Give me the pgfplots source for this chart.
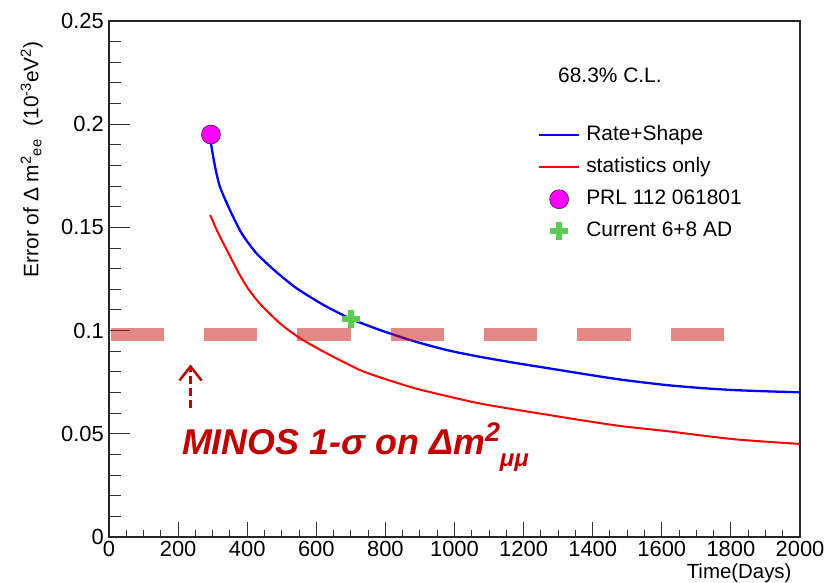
\documentclass[border=0pt]{standalone}
\usepackage{pgfplots}
\pgfplotsset{compat=1.18}
\usepackage{fontspec}
\setmainfont{Liberation Sans}
\usetikzlibrary{arrows.meta}
\definecolor{bandred}{RGB}{200,15,15}
\definecolor{darkred}{RGB}{192,0,0}
\definecolor{crossgreen}{RGB}{92,204,88}
\definecolor{pmag}{RGB}{255,0,255}
\pgfplotsset{
  linelegend/.style={legend image code/.code={\draw[##1] (0bp,0bp) -- (40bp,0bp);}},
  marklegend/.style={legend image code/.code={\draw[##1] plot coordinates {(20bp,0bp)};}},
}
\begin{document}
\begin{tikzpicture}
\path[use as bounding box] (-109bp,-46bp) rectangle (715bp,537bp);
\begin{axis}[
  at={(0bp,0bp)}, anchor=south west,
  scale only axis, width=691bp, height=516bp,
  xmin=0, xmax=2000, ymin=0, ymax=0.25,
  xtick={0,200,400,600,800,1000,1200,1400,1600,1800,2000},
  xticklabels={0,200,400,600,800,1000,1200,1400,1600,1800,2000},
  ytick={0,0.05,0.1,0.15,0.2,0.25},
  yticklabels={0,0.05,0.1,0.15,0.2,0.25},
  minor x tick num=3, minor y tick num=4,
  tick align=inside, tick pos=left,
  major tick length=21bp, minor tick length=12bp,
  xtick style={/pgfplots/major tick length=15bp,/pgfplots/minor tick length=7bp},
  axis line style={line width=1.3bp, black!85},
  tick style={line width=1bp, black!80},
  /pgf/number format/assume math mode=true,
  ticklabel style={font=\fontsize{22}{25}\selectfont},
  xticklabel style={inner sep=4bp},
  yticklabel style={inner sep=5bp},
  xlabel={Time(Days)},
  every axis x label/.style={at={(axis description cs:0.9928,-0.0700)}, anchor=east, font=\fontsize{20.5}{24}\selectfont},
  ylabel={Error of Δ m\textsuperscript{2}\textsubscript{ee}\,\, (10\textsuperscript{-3}eV\textsuperscript{2})},
  every axis y label/.style={at={(axis description cs:-0.112,0.967)}, rotate=90, anchor=east, font=\fontsize{21}{24}\selectfont},
  legend style={at={(axis description cs:0.6075,0.810)}, anchor=north west, draw=none, fill=white,
    inner xsep=9bp, inner ysep=5.5bp, row sep=11bp,
    font=\fontsize{21}{24}\selectfont,
    nodes={inner sep=0bp, text height=16bp, text depth=5bp},
    /tikz/every odd column/.append style={column sep=6bp}},
  legend cell align=left,
]
% Rate+Shape
\addplot[blue, line width=2.3bp, smooth, tension=0.4, linelegend] coordinates {
(295,0.1907) (307,0.1794) (321,0.1697) (350,0.1584) (384,0.1471) (427,0.1374)
(485,0.1283) (543,0.1205) (620,0.1125) (700,0.1057) (784,0.1003) (880,0.0950)
(977,0.0906) (1070,0.0874) (1170,0.0845) (1270,0.0818) (1363,0.0793)
(1479,0.0763) (1614,0.0736) (1720,0.0721) (1807,0.0712) (1900,0.0706) (2000,0.0701)};
\addlegendentry{Rate+Shape}
% statistics only
\addplot[red, line width=2bp, smooth, tension=0.4, linelegend] coordinates {
(293,0.156) (312,0.1487) (331,0.1423) (355,0.1345) (379,0.1268) (405,0.1198)
(437,0.1130) (495,0.1035) (553,0.0963) (630,0.0890) (726,0.0809) (784,0.0774)
(880,0.0723) (977,0.0683) (1070,0.0648) (1170,0.0619) (1270,0.0592) (1363,0.0567)
(1479,0.0538) (1614,0.0513) (1710,0.0493) (1807,0.0474) (1900,0.0462) (2000,0.0451)};
\addlegendentry{statistics only}
% MINOS band
\addplot[forget plot, bandred, opacity=0.5, line width=13.3bp, dash pattern=on 53.3bp off 40bp] coordinates {
(5,0.0982) (1800,0.0982)};
% PRL point
\addplot[only marks, mark=*, mark size=9.5bp, mark options={draw=none, fill=pmag}, marklegend] coordinates {(295,0.195)};
\addlegendentry{PRL 112 061801}
% current
\addplot[only marks, mark=+, mark size=9bp, mark options={line width=6bp, draw=crossgreen}, marklegend] coordinates {(700,0.1056)};
\addlegendentry{Current 6+8 AD}
% arrow
\addplot[forget plot, darkred, line width=2.5bp, dash pattern=on 8bp off 4bp,
  -{Straight Barb[length=14bp,width=22bp]}] coordinates {(236,0.0624) (236,0.0836)};
\node[anchor=west, font=\fontsize{21}{24}\selectfont] at (axis cs:1290,0.2238) {68.3\% C.L.};
\node[anchor=base west, text=darkred, inner sep=0pt, font=\fontsize{36}{40}\selectfont\bfseries\itshape]
  at (axis cs:211,0.0402) {MINOS 1-σ on Δm\raisebox{13bp}{\fontsize{27}{30}\selectfont 2}\raisebox{-12bp}{\fontsize{24}{28}\selectfont μμ}};
\end{axis}
\end{tikzpicture}
\end{document}
